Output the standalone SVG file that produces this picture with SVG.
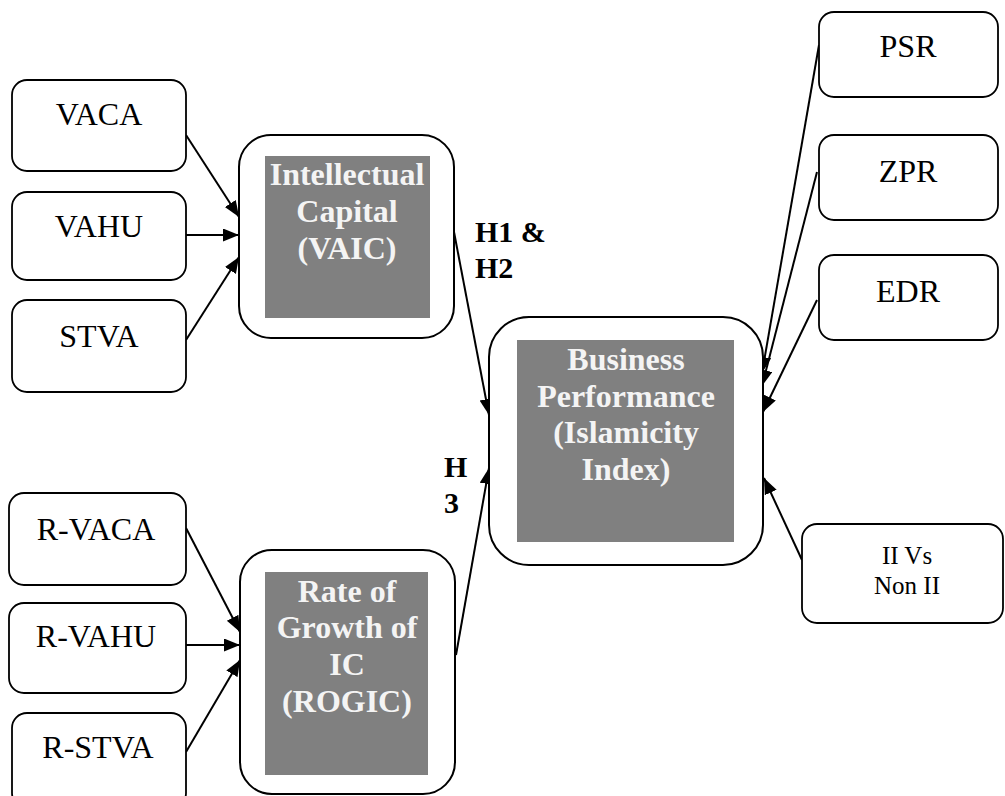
<svg xmlns="http://www.w3.org/2000/svg" width="1005" height="796" viewBox="0 0 1005 796">
<style>
.box{fill:#fff;stroke:#000;stroke-width:1.8}
.big{fill:#fff;stroke:#000;stroke-width:2}
.grey{fill:#808080}
.lbl{font-family:"Liberation Serif","Times New Roman",serif;font-size:32px;fill:#000;text-anchor:middle}
.sm{font-size:25px}
.bt{font-family:"Liberation Serif","Times New Roman",serif;font-size:32px;font-weight:bold;fill:#f4f4f4;text-anchor:middle}
.h{font-family:"Liberation Serif","Times New Roman",serif;font-size:30px;font-weight:bold;fill:#000}
.c{stroke:#000;stroke-width:2;fill:none}
</style>
<defs>
<marker id="ah" markerUnits="userSpaceOnUse" markerWidth="18" markerHeight="14" refX="16" refY="6.5" orient="auto">
<path d="M0,0 L16,6.5 L0,13 z" fill="#000"/>
</marker>
</defs>
<g id="connectors">
<line class="c" x1="186" y1="135" x2="239" y2="217" marker-end="url(#ah)"/>
<line class="c" x1="186" y1="235" x2="239" y2="235" marker-end="url(#ah)"/>
<line class="c" x1="186" y1="340" x2="239" y2="257" marker-end="url(#ah)"/>
<line class="c" x1="186" y1="528" x2="240" y2="632" marker-end="url(#ah)"/>
<line class="c" x1="186" y1="645" x2="240" y2="645" marker-end="url(#ah)"/>
<line class="c" x1="186" y1="752" x2="240" y2="660" marker-end="url(#ah)"/>
<line class="c" x1="454" y1="232" x2="489" y2="415" marker-end="url(#ah)"/>
<line class="c" x1="456" y1="655" x2="489" y2="468" marker-end="url(#ah)"/>
<line class="c" x1="819" y1="45" x2="762" y2="373" marker-end="url(#ah)"/>
<line class="c" x1="817" y1="172" x2="762" y2="386" marker-end="url(#ah)"/>
<line class="c" x1="817" y1="300" x2="763" y2="412" marker-end="url(#ah)"/>
<line class="c" x1="802" y1="560" x2="764" y2="478" marker-end="url(#ah)"/>
</g>
<g id="VACA"><rect class="box" x="12" y="80" width="174" height="91" rx="15"/><text class="lbl" x="99" y="125">VACA</text></g>
<g id="VAHU"><rect class="box" x="12" y="192" width="174" height="88" rx="15"/><text class="lbl" x="99" y="237">VAHU</text></g>
<g id="STVA"><rect class="box" x="12" y="300" width="174" height="92" rx="15"/><text class="lbl" x="99" y="347">STVA</text></g>
<g id="R-VACA"><rect class="box" x="9" y="493" width="177" height="92" rx="15"/><text class="lbl" x="96" y="540">R-VACA</text></g>
<g id="R-VAHU"><rect class="box" x="9" y="603" width="177" height="90" rx="15"/><text class="lbl" x="96" y="647">R-VAHU</text></g>
<g id="R-STVA"><rect class="box" x="12" y="713" width="174" height="95" rx="15"/><text class="lbl" x="98" y="758">R-STVA</text></g>
<g id="VAIC">
<rect class="big" x="239" y="135" width="215" height="203" rx="32"/>
<rect class="grey" x="265" y="156" width="165" height="162"/>
<text class="bt" x="347" y="185">Intellectual</text>
<text class="bt" x="347" y="222">Capital</text>
<text class="bt" x="347" y="259">(VAIC)</text>
</g>
<g id="ROGIC">
<rect class="big" x="240" y="550" width="215" height="244" rx="32"/>
<rect class="grey" x="265" y="572" width="163" height="203"/>
<text class="bt" x="347" y="602">Rate of</text>
<text class="bt" x="347" y="638">Growth of</text>
<text class="bt" x="347" y="675">IC</text>
<text class="bt" x="347" y="712">(ROGIC)</text>
</g>
<g id="BP">
<rect class="big" x="489" y="317" width="274" height="248" rx="40"/>
<rect class="grey" x="517" y="340" width="217" height="202"/>
<text class="bt" x="626" y="370">Business</text>
<text class="bt" x="626" y="407">Performance</text>
<text class="bt" x="626" y="443">(Islamicity</text>
<text class="bt" x="626" y="480">Index)</text>
</g>
<g id="PSR"><rect class="box" x="819" y="12" width="179" height="85" rx="15"/><text class="lbl" x="908" y="57">PSR</text></g>
<g id="ZPR"><rect class="box" x="819" y="135" width="179" height="85" rx="15"/><text class="lbl" x="908" y="182">ZPR</text></g>
<g id="EDR"><rect class="box" x="819" y="255" width="179" height="85" rx="15"/><text class="lbl" x="908" y="302">EDR</text></g>
<g id="IIVS"><rect class="box" x="802" y="524" width="201" height="99" rx="15"/><text class="lbl sm" x="907" y="564">II Vs</text><text class="lbl sm" x="907" y="594">Non II</text></g>
<g id="labels">
<text class="h" x="475" y="242">H1 &amp;</text>
<text class="h" x="475" y="278">H2</text>
<text class="h" x="444" y="477">H</text>
<text class="h" x="444" y="513">3</text>
</g>
</svg>
